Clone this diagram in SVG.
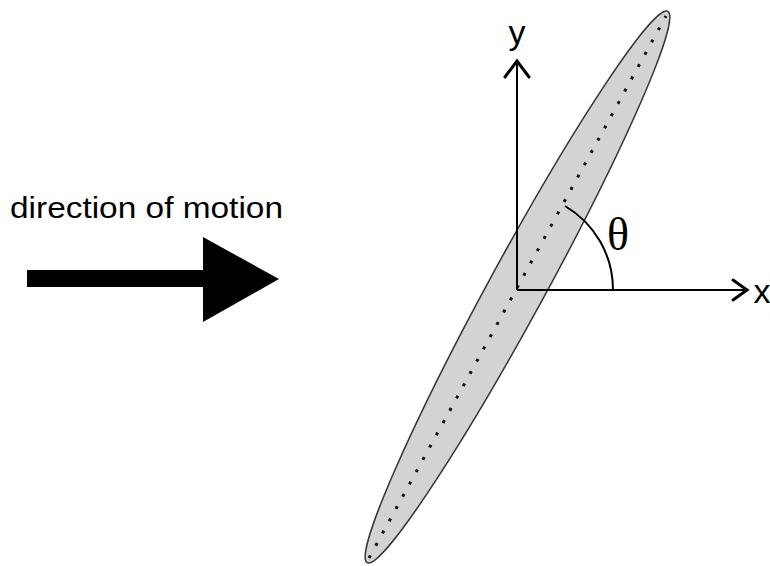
<svg xmlns="http://www.w3.org/2000/svg" width="770" height="566" viewBox="0 0 770 566">
<style>
.lbl{font-family:"Liberation Sans",Arial,sans-serif;fill:#000}
.ax{stroke:#000;stroke-width:2;fill:none}
.head{stroke:#000;stroke-width:3;fill:none;stroke-linecap:round;stroke-linejoin:miter}
</style>
<rect width="770" height="566" fill="#fff"/>
<g id="ellipse">
<ellipse cx="517.5" cy="287" rx="314" ry="28" transform="rotate(-61.4 517.5 287)" fill="#d3d3d3" stroke="#333" stroke-width="1.5"/>
<line x1="369" y1="558" x2="666" y2="16" stroke="#111" stroke-width="3" stroke-dasharray="3 11"/>
</g>
<g id="axes">
<line class="ax" x1="517" y1="290" x2="517" y2="61"/>
<polyline class="head" points="505,77 517,61 529,77"/>
<line class="ax" x1="517" y1="290" x2="747" y2="290"/>
<polyline class="head" points="733,280 747,290 733,300"/>
<path class="ax" d="M 565 206 A 97 97 0 0 1 613 290"/>
</g>
<g id="labels">
<text class="lbl" x="517" y="44" font-size="34" text-anchor="middle">y</text>
<text class="lbl" x="762" y="303" font-size="34" text-anchor="middle">x</text>
<text x="618" y="250" font-size="46" text-anchor="middle" font-family="Liberation Serif,serif">θ</text>
<text id="motion-label" class="lbl" x="10" y="218" font-size="30" textLength="273" lengthAdjust="spacingAndGlyphs">direction of motion</text>
</g>
<g id="motion-arrow">
<polygon points="27,270 203,270 203,237 279,279 203,322 203,287 27,287" fill="#000"/>
</g>
</svg>
